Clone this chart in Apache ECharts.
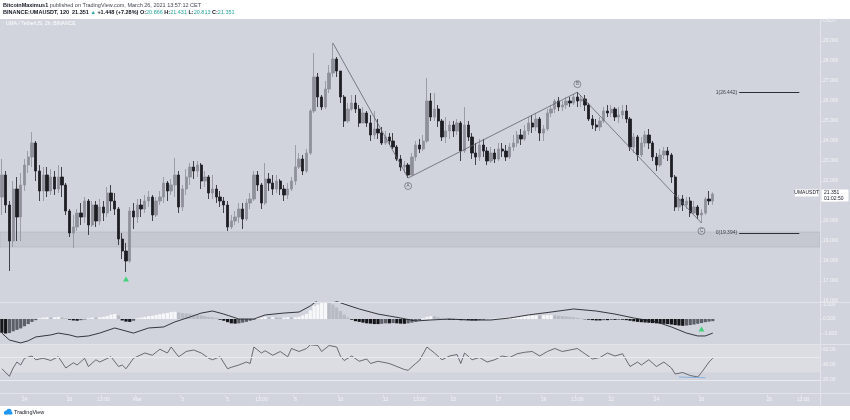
<!DOCTYPE html>
<html><head><meta charset="utf-8">
<script src="https://cdn.jsdelivr.net/npm/echarts/dist/echarts.min.js"></script>
<style>
html,body{margin:0;padding:0;background:#fff}
#c{width:850px;height:420px;background:linear-gradient(to bottom,#fff 0,#fff 19px,#d1d4dc 19px,#d1d4dc 406px,#fff 406px,#fff 420px)}
</style>
</head><body><div id="c"></div>
<script>
// ---- data (4h buckets) : [open, close, low, high]
const candles = [
[21.2,22.3,20.3,23.1],[22.3,20.8,20.4,22.5],[20.8,19.0,17.5,21.0],[19.0,21.6,18.7,22.0],[21.6,20.2,19.0,22.2],
[20.2,21.8,19.0,22.4],[21.8,22.8,21.5,23.1],[22.8,23.2,22.4,23.5],[23.2,23.9,22.7,24.45],[23.9,22.5,22.0,24.0],
[22.5,21.5,21.0,22.8],[21.5,22.3,21.0,22.7],[22.3,21.5,21.2,22.7],[21.5,22.2,21.3,22.6],[22.2,21.6,21.3,22.5],
[21.6,22.2,21.4,22.8],[22.2,21.8,21.2,22.7],[21.8,20.5,20.3,21.9],[20.5,19.4,19.2,20.6],[19.4,19.7,18.65,20.3],
[19.7,20.4,19.5,20.6],[20.4,20.2,19.8,20.9],[20.2,21.0,19.9,21.2],[21.0,19.8,19.3,21.1],[19.8,20.8,19.7,21.0],
[20.8,20.0,19.7,21.0],[20.0,20.7,19.8,21.1],[20.7,20.4,20.0,21.0],[20.4,21.4,20.2,21.7],[21.4,21.0,20.5,21.8],
[21.0,20.6,20.3,21.4],[20.6,19.1,18.8,20.7],[19.1,18.5,18.1,19.4],[18.5,18.0,17.45,18.9],[18.0,20.5,17.9,20.7],
[20.5,20.2,19.6,20.9],[20.2,20.8,19.9,21.1],[20.8,20.6,20.2,21.1],[20.6,21.0,20.4,21.3],[21.0,21.2,20.7,21.5],
[21.2,20.3,20.0,21.3],[20.3,21.0,20.2,21.2],[21.0,21.2,20.8,21.5],[21.2,21.9,20.9,22.2],[21.9,21.5,21.0,22.0],
[21.5,21.8,21.3,22.1],[21.8,22.3,21.2,23.15],[22.3,20.7,20.4,22.5],[20.7,21.6,20.5,21.8],[21.6,22.2,21.3,22.6],
[22.2,22.7,21.8,22.9],[22.7,22.5,22.1,23.0],[22.5,22.8,22.2,23.0],[22.8,22.0,21.6,22.9],[22.0,22.2,21.7,22.5],
[22.2,21.4,21.1,22.3],[21.4,21.6,21.1,22.3],[21.6,21.2,20.9,21.8],[21.2,21.0,20.7,21.5],[21.0,20.8,20.4,21.2],
[20.8,19.7,19.5,21.0],[19.7,20.0,19.6,20.3],[20.0,20.2,19.8,20.5],[20.2,20.6,19.9,20.9],[20.6,20.1,19.6,20.9],
[20.1,20.9,20.0,21.1],[20.9,21.1,20.6,21.4],[21.1,22.3,21.0,22.5],[22.3,21.8,21.5,22.5],[21.8,20.9,20.6,21.9],
[20.9,22.1,20.8,22.9],[22.1,21.9,21.5,22.4],[21.9,21.6,21.3,22.3],[21.6,22.0,21.4,22.3],[22.0,21.6,21.3,22.1],
[21.6,21.3,21.0,21.8],[21.3,21.6,21.1,21.9],[21.6,22.0,21.5,22.2],[22.0,22.7,21.8,23.8],[22.7,23.1,22.6,23.4],
[23.1,22.5,22.3,23.3],[22.5,23.4,22.4,23.6],[23.4,25.5,23.3,25.6],[25.5,27.2,25.4,28.4],[27.2,26.2,25.7,27.4],
[26.2,25.7,25.55,26.3],[25.7,26.6,25.6,27.0],[26.6,27.4,26.4,27.8],[27.4,28.1,27.2,28.9],[28.1,27.5,27.2,28.2],
[27.5,26.2,25.9,27.5],[26.2,25.0,24.7,26.3],[25.0,25.6,24.9,25.9],[25.6,25.9,25.5,26.3],[25.9,25.6,25.4,26.3],
[25.6,24.9,24.7,25.8],[24.9,25.4,24.9,25.7],[25.4,24.9,24.7,25.5],[24.9,24.3,24.0,25.3],[24.3,24.6,24.1,25.5],
[24.6,24.4,24.1,25.1],[24.4,23.9,23.8,24.7],[23.9,24.2,23.8,24.5],[24.2,24.0,23.8,24.4],[24.0,23.7,23.6,24.4],
[23.7,23.1,23.0,23.8],[23.1,22.7,22.5,23.3],[22.7,22.8,22.4,23.0],[22.8,22.3,22.15,22.9],[22.3,23.2,22.3,23.4],
[23.2,23.8,23.0,24.0],[23.8,23.6,23.4,24.1],[23.6,24.0,23.5,24.3],[24.0,26.0,23.9,27.15],[26.0,25.2,25.0,26.4],
[25.2,25.6,25.0,26.4],[25.6,25.0,24.7,25.8],[25.0,24.2,24.0,25.1],[24.2,24.5,23.9,25.2],[24.5,24.8,24.1,25.0],
[24.8,24.5,24.2,25.0],[24.5,24.9,24.3,25.1],[24.9,23.5,23.0,25.0],[23.5,24.8,23.4,25.7],[24.8,24.2,24.0,25.0],
[24.2,23.4,23.1,24.4],[23.4,23.2,22.8,23.9],[23.2,23.8,23.0,24.1],[23.8,23.5,23.2,24.1],[23.5,23.0,22.8,23.7],
[23.0,23.4,22.9,23.7],[23.4,23.1,22.9,23.6],[23.1,23.6,23.0,23.9],[23.6,23.5,23.2,23.9],[23.5,23.2,23.0,23.8],
[23.2,23.7,23.1,23.9],[23.7,23.9,23.5,24.3],[23.9,24.3,23.7,24.5],[24.3,24.1,23.8,24.6],[24.1,24.5,24.0,24.8],
[24.5,24.9,24.3,25.2],[24.9,24.7,24.4,25.3],[24.7,25.1,24.5,25.4],[25.1,24.4,24.0,25.2],[24.4,24.6,24.0,24.8],
[24.6,25.4,24.5,25.6],[25.4,25.6,25.2,25.8],[25.6,26.0,25.4,26.1],[26.0,25.7,25.5,26.2],[25.7,25.8,25.5,26.0],
[25.8,26.0,25.6,26.2],[26.0,25.9,25.7,26.2],[25.9,26.2,25.8,26.35],[26.2,26.0,25.7,26.44],[26.0,26.1,25.7,26.3],
[26.1,25.8,25.5,26.3],[25.8,25.1,25.0,25.9],[25.1,24.8,24.6,25.3],[24.8,24.7,24.5,25.1],[24.7,25.0,24.5,25.2],
[25.0,25.5,24.9,25.7],[25.5,25.4,25.2,25.8],[25.4,25.6,25.2,25.8],[25.6,25.2,25.0,25.7],[25.2,25.3,24.9,25.7],
[25.3,25.5,25.1,25.8],[25.5,25.1,24.9,25.8],[25.1,23.7,23.5,25.2],[23.7,24.2,23.4,24.4],[24.2,23.3,23.0,24.3],
[23.3,23.9,23.2,24.2],[23.9,24.3,23.7,24.5],[24.3,23.9,23.6,24.6],[23.9,23.2,23.0,24.0],[23.2,22.8,22.5,23.4],
[22.8,23.3,22.7,23.6],[23.3,23.5,23.1,23.7],[23.5,23.3,23.0,23.7],[23.3,22.2,21.9,23.4],[22.2,20.7,20.5,22.3],
[20.7,21.1,20.5,21.3],[21.1,20.8,20.5,21.3],[20.8,21.0,20.6,21.2],[21.0,20.4,20.2,21.2],[20.4,20.7,20.3,21.0],
[20.7,20.3,20.1,20.8],[20.3,20.4,19.9,20.6],[20.4,21.1,20.3,21.2],[21.1,21.0,20.8,21.5],[21.0,21.351,20.813,21.431]
];
const macdHist = [
-0.95,-1.0,-0.97,-0.85,-0.75,-0.65,-0.5,-0.35,-0.2,-0.08,
0.05,0.1,0.12,0.1,0.12,0.15,0.1,0.05,
-0.05,-0.1,-0.12,-0.08,-0.03,
0.05,0.1,0.08,0.12,0.15,0.2,
0.3,0.35,0.25,
-0.1,-0.18,-0.2,-0.12,
0.05,0.1,0.15,0.2,0.22,0.28,0.33,0.38,0.42,0.48,0.5,0.45,
0.4,0.38,0.35,0.3,0.28,0.25,0.2,0.15,0.12,0.08,
-0.05,-0.12,-0.22,-0.3,-0.32,-0.3,-0.25,-0.2,-0.12,-0.05,
0.05,0.1,0.15,0.12,0.12,0.1,0.08,0.1,0.12,0.1,0.12,0.15,
0.25,0.35,0.6,0.9,1.0,1.1,1.15,1.1,1.0,
0.8,0.55,0.3,0.1,-0.05,-0.15,-0.2,
-0.25,-0.3,-0.32,-0.35,-0.35,-0.33,-0.3,-0.3,-0.28,-0.3,-0.32,-0.33,-0.3,-0.25,-0.18,
-0.1,0.05,0.15,0.2,0.18,0.12,0.05,-0.02,
-0.05,-0.05,-0.03,-0.08,-0.05,-0.08,-0.1,-0.1,-0.08,-0.05,
0.0,0.02,0.03,0.05,0.08,0.1,0.12,0.15,0.18,0.2,0.22,0.25,0.25,0.26,0.25,0.25,0.26,0.27,0.25,0.22,0.2,0.18,0.15,0.12,
0.08,0.03,-0.02,-0.05,-0.08,-0.1,-0.1,-0.08,-0.08,-0.06,-0.06,-0.05,-0.05,
-0.08,-0.12,-0.16,-0.2,-0.22,-0.24,-0.26,-0.28,-0.3,-0.32,-0.33,-0.35,-0.38,-0.42,-0.45,-0.47,-0.45,-0.42,-0.38,-0.33,
-0.28,-0.22,-0.18,-0.15
];
const macdLine = [[0,-0.97],[2,-1.45],[5,-1.65],[7,-1.5],[9,-1.24],[13,-1.1],[15,-0.97],[18,-1.1],[20,-1.24],[23,-1.17],
[26,-0.97],[30,-0.62],[33,-0.83],[35,-0.97],[39,-0.62],[43,-0.55],[46,-0.2],[50,0.14],[53,0.41],[56,0.55],[59,0.34],
[63,0],[67,0],[70,0.28],[75,0.41],[79,0.48],[82,0.9],[84,1.3],[86,1.45],[88,1.3],[91,1.03],[95,0.69],[100,0.34],
[106,0.07],[110,-0.14],[114,-0.07],[119,0],[124,-0.07],[130,-0.07],[135,0.07],[140,0.28],[146,0.48],[152,0.69],
[158,0.55],[163,0.34],[168,0.07],[174,-0.2],[178,-0.55],[182,-0.97],[185,-1.17],[187,-1.17],[189,-0.97]];
const rsiLine = [[0,35],[2,25],[3,36],[4,44],[5,40],[6,49],[8,52],[9,47],[11,49],[13,46],[15,51],[17,36],[19,43],[20,40],
[22,49],[23,38],[25,47],[26,44],[29,51],[31,38],[32,40],[33,35],[35,49],[38,56],[40,53],[42,61],[44,56],[45,64],[47,51],
[49,58],[51,60],[53,56],[55,49],[56,47],[58,51],[60,35],[61,37],[63,40],[65,44],[66,42],[67,64],[69,56],[70,59],[72,53],
[74,58],[76,51],[77,62],[79,58],[81,62],[82,67],[84,66],[85,58],[87,66],[89,64],[90,52],[91,46],[93,52],[95,45],[97,48],
[98,42],[100,45],[103,42],[105,38],[107,34],[108,33],[110,42],[111,46],[113,64],[115,56],[117,47],[119,52],[121,54],
[122,42],[123,56],[125,47],[127,50],[129,44],[131,47],[133,52],[135,50],[137,55],[139,57],[141,58],[143,52],[145,58],
[147,62],[149,58],[151,60],[153,62],[155,55],[157,48],[159,50],[161,56],[163,52],[165,55],[167,38],[169,44],[170,40],
[172,47],[174,38],[176,44],[178,36],[179,28],[181,30],[183,26],[185,24],[186,30],[188,44],[189,49]];
const rsiTrend = [[180,24],[187,23]];
const wavePoints = [[88,28.9],[108,22.15],[153,26.44],[186,19.9]];
const waveLabels = [{name:'A',at:[108,22.15],dir:1},{name:'B',at:[153,26.44],dir:-1},{name:'C',at:[186,19.9],dir:1}];
const fibLevels = [{name:'1',value:26.442},{name:'0',value:19.394}];
const fibSpan = [196,212];
const supportZone = [18.7,19.45];
const lowArrow = [33,17.45];
const macdArrow = [186,-0.69];
const timeTickIdx = [6,18,27,36,48,60,69,78,90,102,111,120,132,144,153,162,174,186,204,213];
const timeTickText = ['24','26','13:00','Mar','3','5','13:00','8','10','12','13:00','15','17','19','13:00','22','24','26','29','13:00'];
const lastPrice = 21.351, countdown = '01:02:50', symbolName = 'UMAUSDT';
const N_CAT = 218;

const FONT = "'Liberation Sans','DejaVu Sans',sans-serif";
const AX = '#f3f4f7';
const categories = Array.from({length: N_CAT}, (_, i) => 'c' + i);
const tickMap = {}; timeTickIdx.forEach((k, j) => tickMap[k] = timeTickText[j]);
const isTick = (idx) => tickMap[idx] !== undefined;

function xAx(gi, showLabels) {
  return {
    type: 'category', gridIndex: gi, data: categories, boundaryGap: true,
    axisLine: {show: false},
    axisTick: {show: showLabels, interval: isTick, length: 2, lineStyle: {color: '#eceef2', width: 0.6}},
    axisLabel: {show: showLabels, interval: isTick, formatter: (v, i) => tickMap[i] || '', fontSize: 5, color: AX, margin: 2.5, fontFamily: FONT},
    splitLine: {show: false}
  };
}
function yAx(gi, min, max, interval, fmt) {
  return {
    type: 'value', gridIndex: gi, position: 'right', min, max, interval, scale: false,
    axisLine: {show: false},
    axisTick: {show: true, length: 2, lineStyle: {color: '#eceef2', width: 0.6}},
    axisLabel: {show: true, fontSize: 5, color: AX, margin: 3, fontFamily: FONT, formatter: fmt},
    splitLine: {show: false}
  };
}
const isInt = v => Math.abs(v - Math.round(v)) < 1e-6;

const gridBase = {left: 0, right: 30, containLabel: false, outerBoundsMode: 'none', show: false};
const option = {
  animation: false,
  backgroundColor: 'transparent',
  title: [
    {left: 3, top: 2, padding: 0, text: '{b|BitcoinMaximus1} published on TradingView.com, March 26, 2021 13:57:12 CET',
     textStyle: {fontSize: 5.5, color: '#434651', fontWeight: 'normal', fontFamily: FONT,
       rich: {b: {fontSize: 5.5, fontWeight: 'bold', color: '#131722', fontFamily: FONT}}}},
    {left: 3, top: 9.5, padding: 0,
     text: '{d|BINANCE:UMAUSDT, 120}  {d|21.351} {g|▲} {d|+1.448 (+7.28%)} {d|O:}{g|20.866} {d|H:}{g|21.431} {d|L:}{g|20.813} {d|C:}{g|21.351}',
     textStyle: {fontSize: 5.5, color: '#131722', fontWeight: 'normal', fontFamily: FONT,
       rich: {d: {fontSize: 5.5, color: '#131722', fontFamily: FONT, fontWeight: 'bold'},
              g: {fontSize: 5.5, color: '#26a69a', fontFamily: FONT}}}},
    {left: 6, top: 21.5, padding: 0, text: 'UMA / TetherUS, 2h, BINANCE',
     textStyle: {fontSize: 5, color: '#ffffff', fontWeight: 'normal', fontFamily: FONT}}
  ],
  grid: [
    Object.assign({}, gridBase, {top: 21, height: 280}),
    Object.assign({}, gridBase, {top: 301.6, height: 46.4}),
    Object.assign({}, gridBase, {top: 344, height: 51})
  ],
  xAxis: [xAx(0, false), xAx(1, false), xAx(2, true)],
  yAxis: [
    yAx(0, 16, 30, 1, v => v === 30 ? 'USDT' : (isInt(v) ? v.toFixed(3) : '')),
    yAx(1, -2, 1.2, 1, v => (isInt(v) && v > -2) ? v.toFixed(3) : ''),
    yAx(2, 0, 68, 20, v => (isInt(v / 20) && v > 0) ? v.toFixed(2) : '')
  ],
  series: [
    {
      type: 'candlestick', xAxisIndex: 0, yAxisIndex: 0, data: candles, barWidth: 2.8, z: 3,
      itemStyle: {color: '#8e9199', color0: '#1d1e23', borderColor: '#8e9199', borderColor0: '#1d1e23', borderWidth: 0.8},
      markArea: {silent: true, z: 1, itemStyle: {color: '#c5c8d0', borderColor: '#b2b5bd', borderWidth: 0.6},
        data: [[{yAxis: supportZone[1]}, {yAxis: supportZone[0]}]]},
      markLine: {silent: true, symbol: ['none', 'none'], animation: false,
        lineStyle: {color: '#2c2f37', width: 1, type: 'solid'},
        label: {show: true, position: 'start', distance: 2, fontSize: 5, color: '#3a3d45', fontFamily: FONT},
        data: fibLevels.map(f => [
          {coord: [fibSpan[0], f.value], label: {formatter: f.name + '(' + f.value.toFixed(3) + ')'}},
          {coord: [fibSpan[1], f.value]}
        ])}
    },
    {
      type: 'line', xAxisIndex: 0, yAxisIndex: 0, data: wavePoints, symbol: 'none', z: 4,
      lineStyle: {color: '#60636c', width: 0.8}, silent: true
    },
    {
      type: 'scatter', xAxisIndex: 0, yAxisIndex: 0, z: 5, silent: true,
      symbol: 'circle', symbolSize: 7,
      itemStyle: {color: 'rgba(0,0,0,0)', borderColor: '#4d5058', borderWidth: 0.7},
      label: {show: true, position: 'inside', formatter: '{b}', fontSize: 4.5, color: '#3a3d45', fontFamily: FONT},
      data: waveLabels.map(w => ({name: w.name, value: w.at, symbolOffset: [0, 8 * w.dir]}))
    },
    {
      type: 'scatter', xAxisIndex: 0, yAxisIndex: 0, z: 5, silent: true,
      symbol: 'triangle', symbolSize: [6, 5], itemStyle: {color: '#1fd064'},
      data: [{value: lowArrow, symbolOffset: [0, 7]}]
    },
    {
      type: 'bar', xAxisIndex: 1, yAxisIndex: 1, data: macdHist, barWidth: 3.2, z: 2,
      itemStyle: {color: p => {
        const v = macdHist[p.dataIndex], pr = p.dataIndex > 0 ? macdHist[p.dataIndex - 1] : v;
        if (v >= 0) return v >= pr ? '#f6f7f9' : '#b7bac2';
        return v <= pr ? '#15161a' : '#5c5f67';
      }}
    },
    {
      type: 'line', xAxisIndex: 1, yAxisIndex: 1, data: macdLine, symbol: 'none', z: 3,
      lineStyle: {color: '#23252b', width: 0.9}, silent: true
    },
    {
      type: 'scatter', xAxisIndex: 1, yAxisIndex: 1, z: 5, silent: true,
      symbol: 'triangle', symbolSize: [6, 5], itemStyle: {color: '#1fd064'},
      data: [{value: macdArrow}]
    },
    {
      type: 'line', xAxisIndex: 2, yAxisIndex: 2, data: rsiLine, symbol: 'none', z: 3,
      lineStyle: {color: '#4a4d55', width: 0.8}, silent: true,
      markArea: {silent: true, itemStyle: {color: 'rgba(255,255,255,0.22)'}, data: [[{yAxis: 30}, {yAxis: 70}]]},
      markLine: {silent: true, symbol: ['none', 'none'], label: {show: false},
        lineStyle: {color: '#e9ebf0', width: 1, type: 'solid'}, data: [{yAxis: 50}, {yAxis: 20}]}
    },
    {
      type: 'line', xAxisIndex: 2, yAxisIndex: 2, data: rsiTrend, symbol: 'none', z: 3,
      lineStyle: {color: '#8cb0de', width: 1}, silent: true
    }
  ]
};

const chart = echarts.init(document.getElementById('c'), null, {renderer: 'canvas'});
chart.setOption(option);

const py = chart.convertToPixel({yAxisIndex: 0}, lastPrice);
const sep = '#e2e4ea';
chart.setOption({
  graphic: [
    {type: 'line', silent: true, z: 50, shape: {x1: 820.5, y1: 19, x2: 820.5, y2: 406}, style: {stroke: sep, lineWidth: 1}},
    {type: 'line', silent: true, z: 50, shape: {x1: 0, y1: 302.5, x2: 850, y2: 302.5}, style: {stroke: sep, lineWidth: 1}},
    {type: 'line', silent: true, z: 50, shape: {x1: 0, y1: 344.5, x2: 850, y2: 344.5}, style: {stroke: sep, lineWidth: 1}},
    {type: 'line', silent: true, z: 50, shape: {x1: 0, y1: 393.5, x2: 850, y2: 393.5}, style: {stroke: sep, lineWidth: 1}},
    {type: 'rect', z: 60, shape: {x: 795, y: py - 4.5, width: 23.5, height: 7}, style: {fill: '#ffffff'}},
    {type: 'text', z: 61, x: 806.7, y: py - 1, style: {text: symbolName, fontSize: 5, fill: '#131722', align: 'center', verticalAlign: 'middle', fontFamily: FONT}},
    {type: 'rect', z: 60, shape: {x: 821.5, y: py - 4.5, width: 27, height: 12}, style: {fill: '#ffffff'}},
    {type: 'text', z: 61, x: 824, y: py - 1, style: {text: lastPrice.toFixed(3), fontSize: 5, fill: '#131722', align: 'left', verticalAlign: 'middle', fontFamily: FONT}},
    {type: 'text', z: 61, x: 824, y: py + 4.5, style: {text: countdown, fontSize: 5, fill: '#131722', align: 'left', verticalAlign: 'middle', fontFamily: FONT}},
    {type: 'circle', z: 60, shape: {cx: 6, cy: 412.5, r: 2}, style: {fill: '#2196f3'}},
    {type: 'circle', z: 60, shape: {cx: 9, cy: 411.3, r: 2.6}, style: {fill: '#2196f3'}},
    {type: 'rect', z: 60, shape: {x: 4, y: 412, width: 8.5, height: 2.6, r: 1}, style: {fill: '#2196f3'}},
    {type: 'text', z: 61, x: 14, y: 412.8, style: {text: 'TradingView', fontSize: 5.5, fill: '#131722', align: 'left', verticalAlign: 'middle', fontFamily: FONT}}
  ]
});
</script>
</body></html>
